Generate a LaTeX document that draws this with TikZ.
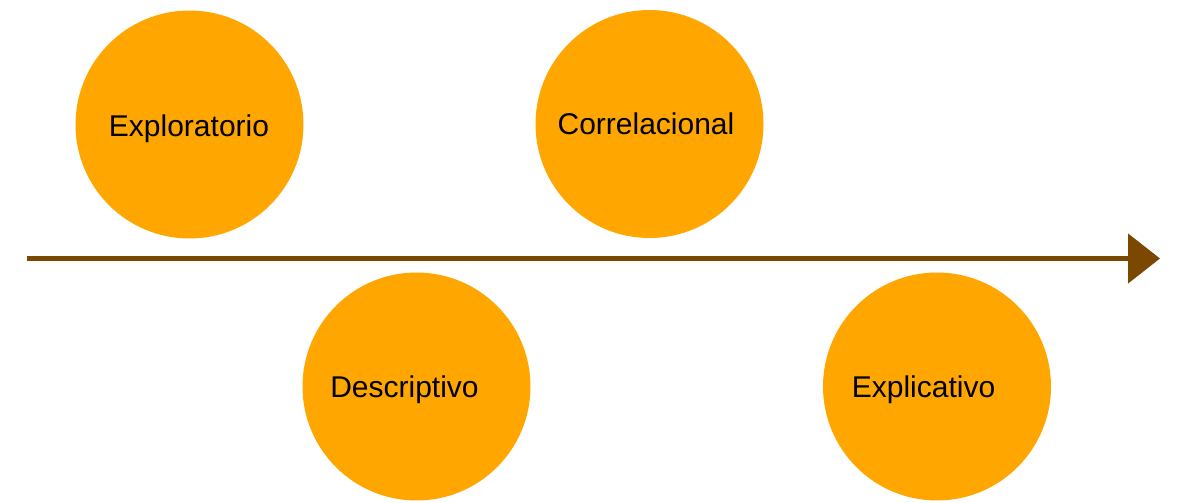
\documentclass[tikz,border=0pt]{standalone}
\usepackage{xcolor}
\usepackage{fontspec}
\setmainfont{Liberation Sans}
\usepackage{tikz}
\usetikzlibrary{arrows.meta, positioning}
\definecolor{bubblefill}{RGB}{255, 166, 0}
\definecolor{axisbrown}{RGB}{122, 72, 0}

\begin{document}
\begin{tikzpicture}[
  x=1pt, y=1pt,
  stage/.style={circle, fill=bubblefill, draw=none, minimum size=228pt, inner sep=0pt},
  tag/.style={anchor=base, font=\fontsize{30}{36}\selectfont, text=black},
  axis/.style={draw=axisbrown, line width=5pt, -{Triangle[length=32pt, width=49pt]}},
]
  \useasboundingbox (0,0) rectangle (1179,-503);
  % stages
  \node[stage] (explor) at (189.5,-124.5) {};
  \node[stage] (correl) at (649.5,-124) {};
  \node[stage] (descr)  at (416.5,-386.5) {};
  \node[stage] (expli)  at (937,-386.5) {};
  \node[tag] (explorT) at (189,-136) {Exploratorio};
  \node[tag] (correlT) at (646,-135) {Correlacional};
  \node[tag] (descrT)  at (404.5,-397) {Descriptivo};
  \node[tag] (expliT)  at (923.5,-397) {Explicativo};
  % time line
  \coordinate (start) at (27,-258.5);
  \coordinate (end)   at (1160,-258.5);
  \draw[axis] (start) -- (end);
\end{tikzpicture}
\end{document}
